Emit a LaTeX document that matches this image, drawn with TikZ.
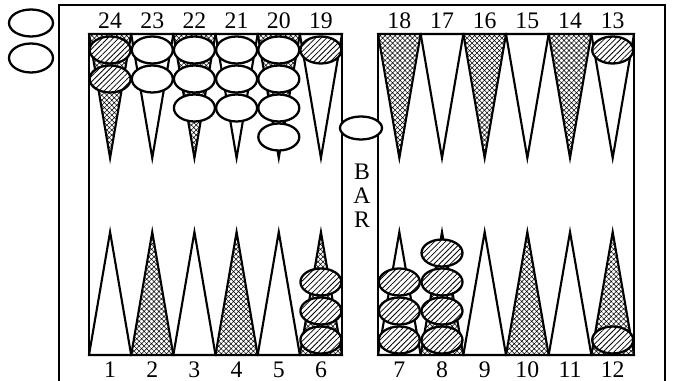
\documentclass[tikz,border=0pt]{standalone}
\usepackage{fontspec}
\setmainfont{Liberation Serif}
\usetikzlibrary{shapes.geometric, patterns.meta, positioning}

\begin{document}
\begin{tikzpicture}[x=0.02cm, y=-0.02cm,
  tri/.style={draw=black, line width=1.2pt, line join=miter},
  dark/.style={tri, pattern={Hatch[angle=45, distance=2pt, line width=0.3pt]}},
  light/.style={tri, fill=white},
  chk/.style={ellipse, draw=black, line width=1.3pt, inner sep=0pt,
    minimum width=0.82cm, minimum height=0.54cm},
  wchk/.style={chk, fill=white},
  bchk/.style={chk, fill=white,
    postaction={pattern={Lines[angle=45, distance=2.2pt, line width=0.45pt]}}},
  num/.style={font=\fontsize{13.5}{15}\selectfont, inner sep=0pt},
  frame/.style={draw=black, line width=1.5pt}
]
  \useasboundingbox (0,0) rectangle (673,381);

  % points and their numbers
  \foreach \bx/\bw/\topn/\botn in {89/42.17/24/1, 378/42.67/18/7} {
    \foreach \k in {0,...,5} {
      \pgfmathsetmacro\xl{\bx+\k*\bw}
      \pgfmathsetmacro\xr{\xl+\bw}
      \pgfmathsetmacro\xc{\xl+\bw/2}
      \pgfmathtruncatemacro\tn{\topn-\k}
      \pgfmathtruncatemacro\bn{\botn+\k}
      \ifodd\k \def\ts{light}\def\bs{dark}\else \def\ts{dark}\def\bs{light}\fi
      \draw[\ts] (\xl,34) -- (\xc,158) -- (\xr,34) -- cycle;
      \draw[\bs] (\xl,355) -- (\xc,232) -- (\xr,355) -- cycle;
      \node[num] (n\tn) at (\xc,21) {\tn};
      \node[num] (n\bn) at (\xc,370) {\bn};
    }
  }

  % board
  \draw[frame] (59,381) -- (59,5) -- (665,5) -- (665,381);
  \draw[frame] (89,34) rectangle (342,355);
  \draw[frame] (378,34) rectangle (634,355);

  % checkers, top half
  \foreach \p/\x/\n/\s in {24/110.1/2/bchk, 23/152.3/2/wchk, 22/194.4/3/wchk,
      21/236.6/3/wchk, 20/278.8/4/wchk, 19/320.9/1/bchk, 13/612.7/1/bchk}
    \foreach \j in {1,...,\n}
      \node[\s] (c\p-\j) at (\x,{50+29*(\j-1)}) {};

  % checkers, bottom half
  \foreach \p/\x/\n/\s in {6/320.9/3/bchk, 7/399.3/3/bchk, 8/442/4/bchk,
      12/612.7/1/bchk}
    \foreach \j in {1,...,\n}
      \node[\s] (c\p-\j) at (\x,{340-29*(\j-1)}) {};

  % bar and off the board
  \node[wchk, minimum width=0.84cm, minimum height=0.46cm] (bar) at (361,128) {};
  \node[wchk, minimum width=0.88cm, minimum height=0.54cm] (off1) at (31,23) {};
  \node[wchk, minimum width=0.88cm, minimum height=0.58cm] (off2) at (31,58) {};

  \node[num] (barB) at (362,172) {B};
  \node[num] (barA) at (362,196) {A};
  \node[num] (barR) at (362,220) {R};
\end{tikzpicture}
\end{document}
